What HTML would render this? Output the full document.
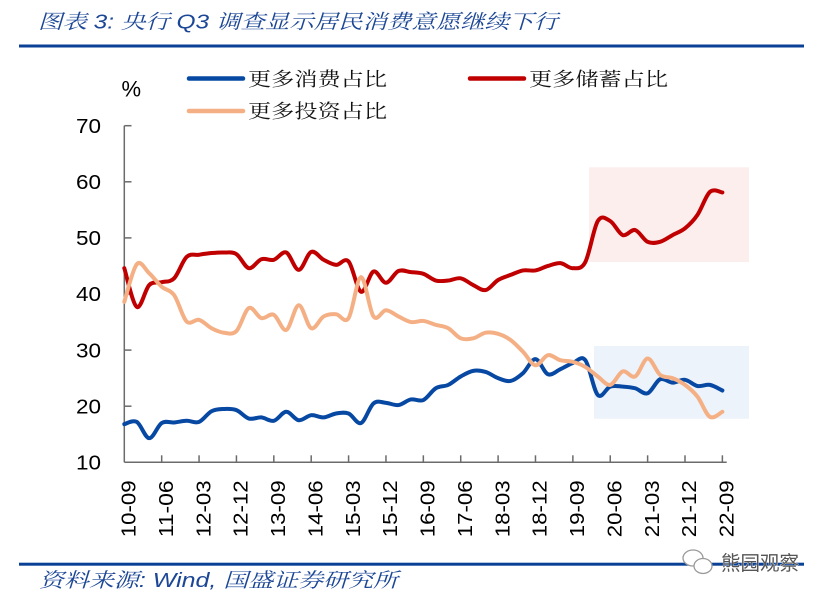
<!DOCTYPE html>
<html><head><meta charset="utf-8">
<style>
html,body{margin:0;padding:0;background:#fff;}
svg{display:block;}
.cjk{font-family:"Liberation Sans","Noto Serif CJK SC","Noto Sans CJK SC",serif;}
.num{font-family:"Liberation Sans","DejaVu Sans",sans-serif;}
</style></head>
<body>
<svg id="chart" width="826" height="600" viewBox="0 0 826 600" xmlns="http://www.w3.org/2000/svg">
  <rect x="0" y="0" width="826" height="600" fill="#fff"/>
  <!-- title -->
  <text x="38" y="28.5" class="cjk" font-size="20" font-style="italic" fill="#1c4796" textLength="520" lengthAdjust="spacingAndGlyphs">图表 3:  央行 Q3 调查显示居民消费意愿继续下行</text>
  <rect x="19" y="44.5" width="785" height="3" fill="#0a4197"/>

  <!-- legend -->
  <line x1="189" y1="78.5" x2="243" y2="78.5" stroke="#0748a3" stroke-width="4.5" stroke-linecap="round"/>
  <text x="248" y="85.3" class="cjk" font-size="19" fill="#111" textLength="139" lengthAdjust="spacingAndGlyphs">更多消费占比</text>
  <line x1="470" y1="78.5" x2="524" y2="78.5" stroke="#c00000" stroke-width="4.5" stroke-linecap="round"/>
  <text x="529" y="85.3" class="cjk" font-size="19" fill="#111" textLength="139" lengthAdjust="spacingAndGlyphs">更多储蓄占比</text>
  <line x1="189" y1="111" x2="243" y2="111" stroke="#f4b084" stroke-width="4.5" stroke-linecap="round"/>
  <text x="248" y="117.3" class="cjk" font-size="19" fill="#111" textLength="139" lengthAdjust="spacingAndGlyphs">更多投资占比</text>

  <text x="121.5" y="96.5" class="num" font-size="22" fill="#000">%</text>

  <!-- highlight boxes -->
  <rect x="589" y="167.3" width="160" height="94.7" fill="#fdeeee"/>
  <rect x="594" y="346" width="155" height="72.7" fill="#edf3fb"/>

  <!-- axes -->
  <g id="axes" stroke="#6b6b6b" stroke-width="1.5" fill="none"></g>
  <g id="ylab" class="num" font-size="20" fill="#000"></g>
  <g id="xlab" class="num" font-size="20" fill="#000"></g>

  <!-- series -->
  <path id="sBlue" fill="none" stroke="#0748a3" stroke-width="4" stroke-linejoin="round" stroke-linecap="round"/>
  <path id="sRed" fill="none" stroke="#c00000" stroke-width="4" stroke-linejoin="round" stroke-linecap="round"/>
  <path id="sOrange" fill="none" stroke="#f4b084" stroke-width="4" stroke-linejoin="round" stroke-linecap="round"/>

  <!-- footer -->
  <rect x="19" y="562.7" width="785" height="3" fill="#0a4197"/>
  <text x="39" y="587" class="cjk" font-size="20" font-style="italic" fill="#1c4796" textLength="359" lengthAdjust="spacingAndGlyphs">资料来源:  Wind,  国盛证券研究所</text>

  <!-- watermark -->
  <g stroke="#9a9a9a" stroke-width="1.3" fill="#fff">
    <ellipse cx="693" cy="558" rx="10" ry="8"/>
    <ellipse cx="703" cy="566" rx="9" ry="7.5"/>
  </g>
  <text x="721" y="570" font-family="'Noto Sans CJK SC','WenQuanYi Zen Hei',sans-serif" font-size="20" fill="#555" stroke="#fff" stroke-width="0.6" paint-order="stroke" textLength="78" lengthAdjust="spacingAndGlyphs">熊园观察</text>
</svg>
<script>
(function(){
  var NS="http://www.w3.org/2000/svg";
  var x0=124.3, dx=12.46, yb=462.3, k=5.61;
  function X(i){return x0+i*dx;}
  function Y(v){return yb-(v-10)*k;}
  var axes=document.getElementById('axes');
  function ln(x1,y1,x2,y2,p){var l=document.createElementNS(NS,'line');l.setAttribute('x1',x1);l.setAttribute('y1',y1);l.setAttribute('x2',x2);l.setAttribute('y2',y2);p.appendChild(l);}
  ln(124.3,125.7,124.3,yb,axes);
  ln(124.3,yb,726.7,yb,axes);
  var ylab=document.getElementById('ylab');
  for(var v=10;v<=70;v+=10){
    var y=Y(v);
    if(v>10) ln(124.3,y,131.5,y,axes);
    var t=document.createElementNS(NS,'text');
    t.setAttribute('x',76);t.setAttribute('y',(y+7.2).toFixed(1));
    t.setAttribute('textLength','25');t.setAttribute('lengthAdjust','spacingAndGlyphs');
    t.textContent=String(v);ylab.appendChild(t);
  }
  var labs=["10-09","11-06","12-03","12-12","13-09","14-06","15-03","15-12","16-09","17-06","18-03","18-12","19-09","20-06","21-03","21-12","22-09"];
  var xlab=document.getElementById('xlab');
  for(var j=0;j<labs.length;j++){
    var xt=X(j*3);
    if(j>0) ln(xt,yb-7,xt,yb,axes);
    var t=document.createElementNS(NS,'text');
    t.setAttribute('transform','translate('+(xt+11.2).toFixed(1)+',537.3) rotate(-90)');
    t.setAttribute('textLength','57');t.setAttribute('lengthAdjust','spacingAndGlyphs');
    t.textContent=labs[j];xlab.appendChild(t);
  }
  var blue=[16.8,17.2,14.3,17.0,17.1,17.4,17.2,19.1,19.5,19.3,17.8,18.0,17.4,19.0,17.5,18.4,18.0,18.7,18.7,17.0,20.5,20.6,20.2,21.2,21.1,23.2,23.8,25.3,26.3,26.1,25.0,24.5,25.9,28.4,25.7,26.6,27.7,28.2,22.0,23.5,23.5,23.2,22.3,24.8,24.2,24.7,23.6,23.8,22.8];
  var red=[44.6,37.7,41.6,42.1,42.8,46.6,47.0,47.3,47.4,47.1,44.6,46.2,46.1,47.4,44.3,47.5,46.1,45.2,45.8,40.4,44.0,42.0,44.1,43.9,43.6,42.4,42.4,42.8,41.6,40.7,42.5,43.4,44.2,44.2,45.0,45.5,44.6,45.7,53.0,53.0,50.5,51.4,49.3,49.3,50.5,51.7,54.1,58.2,58.1];
  var orange=[38.6,45.3,43.7,41.3,39.8,35.1,35.4,33.9,33.1,33.4,37.5,35.7,36.3,33.6,38.0,33.9,36.0,36.4,35.7,43.0,36.0,37.1,36.0,35.0,35.2,34.5,33.9,32.1,32.1,33.1,32.9,31.8,29.7,27.3,29.1,28.2,27.9,27.0,25.3,23.8,26.2,25.3,28.5,25.6,25.0,23.8,21.7,18.1,19.0];
  function path(d){
    var p=d.map(function(v,i){return [X(i),Y(v)];});
    var s="M"+p[0][0].toFixed(2)+" "+p[0][1].toFixed(2);
    for(var i=0;i<p.length-1;i++){
      var a=p[i-1]||p[i], b=p[i], c=p[i+1], e=p[i+2]||p[i+1];
      var c1x=b[0]+(c[0]-a[0])/6, c1y=b[1]+(c[1]-a[1])/6;
      var c2x=c[0]-(e[0]-b[0])/6, c2y=c[1]-(e[1]-b[1])/6;
      s+=" C"+c1x.toFixed(2)+" "+c1y.toFixed(2)+" "+c2x.toFixed(2)+" "+c2y.toFixed(2)+" "+c[0].toFixed(2)+" "+c[1].toFixed(2);
    }
    return s;
  }
  document.getElementById('sBlue').setAttribute('d',path(blue));
  document.getElementById('sRed').setAttribute('d',path(red));
  document.getElementById('sOrange').setAttribute('d',path(orange));
})();
</script>
</body></html>
